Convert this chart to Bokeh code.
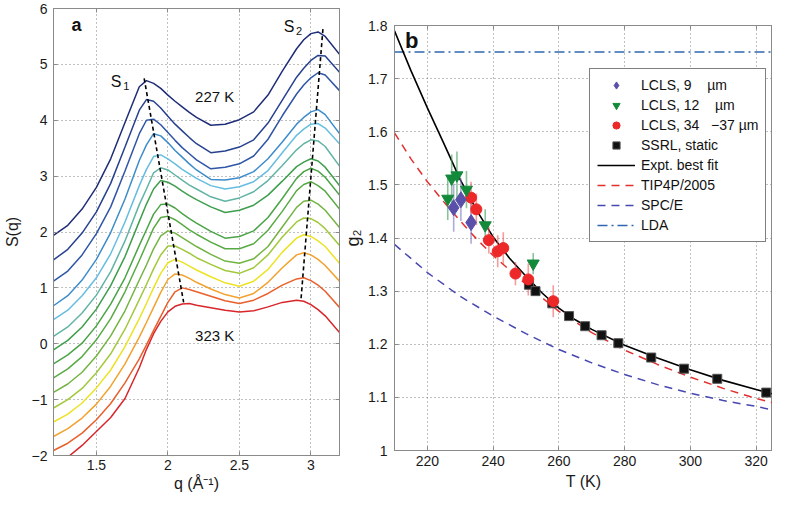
from bokeh.plotting import figure
from bokeh.layouts import row
from bokeh.models import (Range1d, FixedTicker, CustomJSTickFormatter, Legend,
                          LegendItem, LinearAxis)
from bokeh.embed import file_html
from bokeh.resources import INLINE
from bokeh.core.properties import value

FONT = "Liberation Sans"

# ---------------- panel a : S(q) curves (offset), 227 K (top) ... 323 K (bottom)
q = [1.2, 1.3, 1.4, 1.5, 1.6, 1.7, 1.8, 1.85, 1.9, 1.95, 2.0, 2.05, 2.1, 2.15,
     2.2, 2.3, 2.4, 2.5, 2.6, 2.7, 2.8, 2.9, 2.95, 3.0, 3.05, 3.1, 3.2]

curve_01 = [1.94, 2.12, 2.41, 2.80, 3.31, 3.96, 4.60, 4.71, 4.66, 4.57, 4.45, 4.34, 4.24, 4.14,
            4.05, 3.91, 3.93, 4.01, 4.15, 4.45, 4.88, 5.28, 5.44, 5.55, 5.58, 5.50, 5.18]
curve_02 = [1.50, 1.69, 1.98, 2.36, 2.87, 3.52, 4.18, 4.37, 4.34, 4.22, 4.07, 3.93, 3.81, 3.69,
            3.58, 3.42, 3.45, 3.52, 3.65, 3.95, 4.36, 4.77, 4.93, 5.07, 5.16, 5.15, 4.86]
curve_03 = [1.12, 1.30, 1.59, 1.97, 2.45, 3.09, 3.76, 4.00, 4.02, 3.92, 3.78, 3.64, 3.51, 3.40,
            3.29, 3.13, 3.16, 3.22, 3.36, 3.66, 4.08, 4.47, 4.63, 4.76, 4.85, 4.81, 4.53]
curve_04 = [0.68, 0.86, 1.14, 1.51, 1.99, 2.59, 3.28, 3.56, 3.76, 3.72, 3.60, 3.46, 3.34, 3.22,
            3.11, 2.94, 2.93, 2.97, 3.08, 3.31, 3.61, 3.93, 4.05, 4.15, 4.19, 4.10, 3.76]
curve_05 = [0.43, 0.60, 0.86, 1.18, 1.61, 2.18, 2.83, 3.12, 3.35, 3.38, 3.31, 3.22, 3.12, 3.04,
            2.96, 2.83, 2.77, 2.81, 2.90, 3.10, 3.42, 3.73, 3.84, 3.93, 3.94, 3.86, 3.58]
curve_06 = [0.13, 0.30, 0.55, 0.87, 1.29, 1.84, 2.49, 2.77, 3.06, 3.15, 3.11, 3.02, 2.93, 2.84,
            2.77, 2.63, 2.55, 2.61, 2.72, 2.92, 3.19, 3.47, 3.58, 3.65, 3.63, 3.53, 3.18]
curve_07 = [-0.11, 0.06, 0.30, 0.62, 1.04, 1.56, 2.19, 2.50, 2.77, 2.92, 2.89, 2.82, 2.73, 2.65,
            2.58, 2.45, 2.35, 2.39, 2.48, 2.66, 2.91, 3.17, 3.25, 3.31, 3.27, 3.16, 2.83]
curve_08 = [-0.36, -0.20, 0.01, 0.32, 0.71, 1.18, 1.76, 2.04, 2.32, 2.49, 2.50, 2.43, 2.33, 2.24,
            2.16, 2.01, 1.89, 1.92, 2.02, 2.26, 2.60, 2.96, 3.08, 3.14, 3.09, 2.98, 2.66]
curve_09 = [-0.61, -0.45, -0.23, 0.07, 0.45, 0.93, 1.49, 1.78, 2.07, 2.26, 2.28, 2.22, 2.13, 2.04,
            1.96, 1.82, 1.70, 1.70, 1.79, 2.03, 2.37, 2.74, 2.85, 2.90, 2.83, 2.73, 2.41]
curve_10 = [-0.87, -0.72, -0.51, -0.22, 0.14, 0.59, 1.14, 1.41, 1.70, 1.93, 2.02, 1.98, 1.90, 1.82,
            1.74, 1.60, 1.48, 1.44, 1.52, 1.74, 2.09, 2.44, 2.55, 2.57, 2.50, 2.39, 2.08]
curve_11 = [-1.15, -1.00, -0.80, -0.52, -0.18, 0.26, 0.79, 1.06, 1.34, 1.59, 1.75, 1.75, 1.69, 1.62,
            1.54, 1.42, 1.31, 1.26, 1.36, 1.59, 1.91, 2.18, 2.25, 2.24, 2.17, 2.06, 1.76]
curve_12 = [-1.40, -1.26, -1.06, -0.79, -0.47, -0.05, 0.45, 0.72, 1.00, 1.26, 1.45, 1.51, 1.46, 1.39,
            1.32, 1.20, 1.09, 1.03, 1.12, 1.33, 1.64, 1.89, 1.95, 1.92, 1.84, 1.74, 1.44]
curve_13 = [-1.66, -1.52, -1.33, -1.08, -0.76, -0.36, 0.12, 0.38, 0.65, 0.92, 1.15, 1.25, 1.23, 1.17,
            1.10, 0.98, 0.88, 0.82, 0.90, 1.10, 1.36, 1.59, 1.63, 1.59, 1.51, 1.40, 1.12]
curve_14 = [-1.91, -1.78, -1.60, -1.36, -1.07, -0.70, -0.27, -0.02, 0.24, 0.49, 0.74, 0.93, 1.00, 0.97,
            0.93, 0.85, 0.77, 0.72, 0.78, 0.90, 1.05, 1.16, 1.18, 1.13, 1.05, 0.94, 0.65]
curve_15 = [-2.25, -2.03, -1.82, -1.57, -1.32, -0.98, -0.43, -0.10, 0.18, 0.40, 0.57, 0.67, 0.71, 0.72,
            0.69, 0.645, 0.60, 0.57, 0.59, 0.66, 0.74, 0.78, 0.76, 0.70, 0.61, 0.50, 0.20]

curves = [curve_01, curve_02, curve_03, curve_04, curve_05, curve_06, curve_07, curve_08,
          curve_09, curve_10, curve_11, curve_12, curve_13, curve_14, curve_15]
curve_colors = ["#1f2d78", "#26418f", "#2f55a6", "#3d8ccc", "#66bde0", "#62b4a4", "#3f9e4c",
                "#4aa446", "#58aa44", "#74b442", "#a2c83c", "#ece226", "#f2a22e", "#e8602c",
                "#d8262a"]

# dashed guides through the S1 and S2 peaks
s1_line_q = [1.834, 2.11]
s1_line_s = [4.75, 0.74]
s2_line_q = [3.084, 2.93]
s2_line_s = [5.63, 0.77]

q_ticks = [1.5, 2, 2.5, 3]
s_ticks = [-2, -1, 0, 1, 2, 3, 4, 5, 6]

# ---------------- panel b : g2 versus T
fit_T = [210, 215, 220, 225, 230, 235, 240, 245, 250, 255, 260, 265, 270, 280, 290, 300, 310, 320, 330]
fit_g = [1.79, 1.715, 1.645, 1.578, 1.51, 1.452, 1.402, 1.362, 1.328, 1.296, 1.268, 1.246, 1.228,
         1.198, 1.174, 1.152, 1.132, 1.115, 1.098]

tip_T = [210, 215, 220, 225, 230, 235, 240, 245, 250, 255, 260, 270, 280, 290, 300, 310, 320, 330]
tip_g = [1.598, 1.549, 1.506, 1.468, 1.432, 1.398, 1.367, 1.340, 1.313, 1.287, 1.262, 1.222, 1.189,
         1.162, 1.138, 1.117, 1.098, 1.082]

spce_T = [210, 220, 230, 240, 250, 260, 270, 280, 290, 300, 310, 320, 330]
spce_g = [1.388, 1.335, 1.29, 1.253, 1.22, 1.19, 1.165, 1.143, 1.124, 1.108, 1.094, 1.083, 1.07]

lda_T = [210, 330]
lda_g = [1.75, 1.75]

lcls9_T = [228.0, 230.2, 233.3]
lcls9_g = [1.457, 1.472, 1.429]
lcls9_err = [0.045, 0.04, 0.04]

lcls12_T = [226.2, 227.4, 229.0, 231.9, 237.6, 252.2]
lcls12_g = [1.474, 1.512, 1.518, 1.491, 1.424, 1.352]
lcls12_err = [0.04, 0.045, 0.045, 0.035, 0.03, 0.02]

lcls34_T = [233.3, 234.9, 238.7, 241.4, 243.1, 246.8, 250.7, 258.3]
lcls34_g = [1.476, 1.454, 1.396, 1.375, 1.381, 1.333, 1.322, 1.281]
lcls34_err = [0.03, 0.03, 0.025, 0.03, 0.03, 0.022, 0.03, 0.03]

ssrl_T = [250.9, 252.9, 258.0, 263.1, 268.0, 273.0, 278.1, 288.1, 298.1, 308.2, 323.1]
ssrl_g = [1.312, 1.300, 1.277, 1.253, 1.234, 1.217, 1.202, 1.175, 1.154, 1.135, 1.109]
ssrl_err = [0.008, 0.008, 0.008, 0.007, 0.007, 0.007, 0.007, 0.006, 0.006, 0.006, 0.006]

T_ticks = [220, 240, 260, 280, 300, 320]
g_ticks = [1.0, 1.1, 1.2, 1.3, 1.4, 1.5, 1.6, 1.7, 1.8]

legend_labels = ["LCLS, 9    \u00b5m", "LCLS, 12    \u00b5m", "LCLS, 34   \u221237 \u00b5m",
                 "SSRL, static", "Expt. best fit", "TIP4P/2005", "SPC/E", "LDA"]

AXC = "#8a8a8a"


def style(p):
    p.outline_line_color = AXC
    p.outline_line_width = 1
    for ax in (p.xaxis[0], p.yaxis[0]):
        ax.axis_line_color = AXC
        ax.major_tick_line_color = AXC
        ax.major_tick_in = 4
        ax.major_tick_out = 0
        ax.minor_tick_line_color = None
        ax.major_label_text_font = FONT
        ax.major_label_text_font_size = "14px"
        ax.major_label_text_color = "#1a1a1a"
        ax.axis_label_text_font = FONT
        ax.axis_label_text_font_size = "16px"
        ax.axis_label_text_font_style = "normal"
        ax.axis_label_text_color = "#1a1a1a"
    p.grid.grid_line_color = "#808080"
    p.grid.grid_line_dash = "1 3"
    p.grid.grid_line_width = 1
    try:
        p.frame_align = False
    except Exception:
        pass


def mirror_axis(p, ticks, side):
    ax = LinearAxis(ticker=FixedTicker(ticks=ticks),
                    formatter=CustomJSTickFormatter(code="return '';"),
                    axis_line_color=AXC, major_tick_line_color=AXC,
                    major_tick_in=4, major_tick_out=0, minor_tick_line_color=None,
                    major_label_standoff=0, major_label_text_font_size="1px")
    p.add_layout(ax, side)


# ---------------- figure a
pa = figure(width=340, height=494, x_range=Range1d(1.2, 3.2), y_range=Range1d(-2, 6),
            output_backend="svg", toolbar_location=None,
            min_border_left=47, min_border_right=1, min_border_top=8, min_border_bottom=38)
style(pa)
pa.xaxis.ticker = FixedTicker(ticks=q_ticks)
pa.yaxis.ticker = FixedTicker(ticks=s_ticks)
pa.yaxis.formatter = CustomJSTickFormatter(code="return tick < 0 ? '\u2212' + (-tick) : '' + tick;")
pa.xaxis.axis_label = "q (\u00c5\u207b\u00b9)"
pa.yaxis.axis_label = "S(q)"
pa.xaxis.major_label_standoff = 4
pa.yaxis.major_label_standoff = 6
pa.xaxis.axis_label_standoff = 2
pa.yaxis.axis_label_standoff = 8
mirror_axis(pa, q_ticks, "above")
mirror_axis(pa, s_ticks, "right")

for ys, col in zip(curves, curve_colors):
    pa.line(q, ys, line_color=col, line_width=1.5)

pa.line(s1_line_q, s1_line_s, line_color="black", line_width=1.6, line_dash="4 3")
pa.line(s2_line_q, s2_line_s, line_color="black", line_width=1.6, line_dash="4 3")

txt = dict(text_font=value(FONT), text_color="#111111", text_baseline="middle")
pa.text(x=[1.325], y=[5.70], text=["a"], text_font_size="18px", text_font_style="bold",
        text_align="left", **txt)
pa.text(x=[1.600], y=[4.70], text=["S"], text_font_size="16px", text_align="left", **txt)
pa.text(x=[1.687], y=[4.62], text=["1"], text_font_size="11px", text_align="left", **txt)
pa.text(x=[2.848], y=[5.68], text=["S"], text_font_size="16px", text_align="center", **txt)
pa.text(x=[2.895], y=[5.60], text=["2"], text_font_size="11px", text_align="left", **txt)
pa.text(x=[2.327], y=[4.42], text=["227 K"], text_font_size="15px", text_align="center", **txt)
pa.text(x=[2.327], y=[0.14], text=["323 K"], text_font_size="15px", text_align="center", **txt)

# ---------------- figure b
pb = figure(width=432, height=494, x_range=Range1d(210, 325), y_range=Range1d(1, 1.8),
            output_backend="svg", toolbar_location=None,
            min_border_left=46, min_border_right=0, min_border_top=25, min_border_bottom=44)
style(pb)
pb.xaxis.ticker = FixedTicker(ticks=T_ticks)
pb.yaxis.ticker = FixedTicker(ticks=g_ticks)
pb.yaxis.formatter = CustomJSTickFormatter(
    code="return Math.abs(tick - 1) < 1e-9 ? '1' : tick.toFixed(1);")
pb.xaxis.axis_label = "T (K)"
pb.yaxis.axis_label = "g\u2082"
pb.xaxis.major_label_standoff = 5
pb.yaxis.major_label_standoff = 7
pb.xaxis.axis_label_standoff = 4
pb.yaxis.axis_label_standoff = 2
pb.yaxis.axis_label_text_font_size = "18px"
mirror_axis(pb, T_ticks, "above")

r_lda = pb.line(lda_T, lda_g, line_color="#2f68b0", line_width=1.4, line_dash="10 4 2 4")
r_spce = pb.line(spce_T, spce_g, line_color="#4747b0", line_width=1.5, line_dash="8 6")
r_tip = pb.line(tip_T, tip_g, line_color="#e23030", line_width=1.5, line_dash="8 6")
r_fit = pb.line(fit_T, fit_g, line_color="black", line_width=1.6)


def err(T, g, e, col):
    lo = [a - b for a, b in zip(g, e)]
    hi = [a + b for a, b in zip(g, e)]
    pb.segment(x0=T, y0=lo, x1=T, y1=hi, line_color=col, line_width=1.6, line_alpha=0.6)


err(ssrl_T, ssrl_g, ssrl_err, "#777777")
err(lcls9_T, lcls9_g, lcls9_err, "#7a72c0")
err(lcls12_T, lcls12_g, lcls12_err, "#3c9a5a")
err(lcls34_T, lcls34_g, lcls34_err, "#ee5a5a")

r_ssrl = pb.scatter(ssrl_T, ssrl_g, marker="square", size=9, fill_color="#111111",
                    line_color="#555555")
r_34 = pb.scatter(lcls34_T, lcls34_g, marker="circle", size=11, fill_color="#ec2828",
                  line_color="#ec2828")
r_12 = pb.scatter(lcls12_T, lcls12_g, marker="inverted_triangle", size=12, fill_color="#138a3a",
                  line_color="#138a3a")
r_9 = pb.scatter(lcls9_T, lcls9_g, marker="diamond", size=16, fill_color="#5a50aa",
                 line_color="#5a50aa")

pb.text(x=[213.2], y=[1.772], text=["b"], text_font_size="22px", text_font_style="bold",
        text_align="left", **txt)

renderers = [r_9, r_12, r_34, r_ssrl, r_fit, r_tip, r_spce, r_lda]
legend = Legend(items=[LegendItem(label=lab, renderers=[r]) for lab, r in zip(legend_labels, renderers)],
                location=(195, 208))
legend.label_text_font = FONT
legend.label_text_font_size = "14px"
legend.label_text_color = "#111111"
legend.glyph_width = 38
legend.glyph_height = 18
legend.label_height = 18
legend.spacing = 2
legend.padding = 7
legend.margin = 0
legend.label_standoff = 6
legend.border_line_color = "black"
legend.border_line_width = 1
legend.background_fill_color = "white"
legend.background_fill_alpha = 1
pb.add_layout(legend)

layout = row(pa, pb)
open("out.html", "w").write(file_html(layout, INLINE))
